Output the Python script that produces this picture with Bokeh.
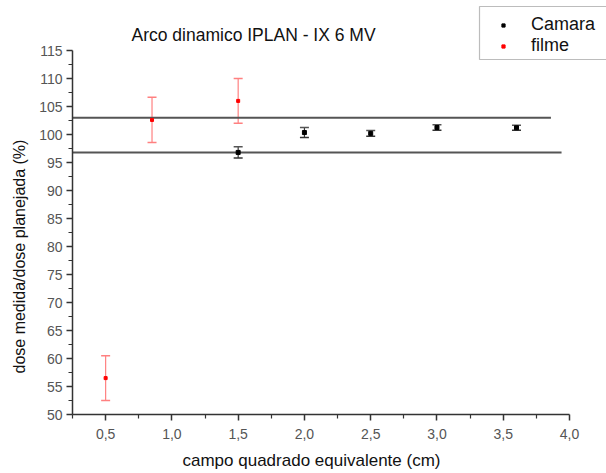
from bokeh.plotting import figure
from bokeh.models import (ColumnDataSource, Range1d, FixedTicker, Whisker, TeeHead,
                          Legend, LegendItem, Label, Title, PolyAnnotation)
from bokeh.embed import file_html
from bokeh.resources import INLINE

# ---- data ----
camara_x = [1.5, 2.0, 2.5, 3.0, 3.6]
camara_y = [96.8, 100.35, 100.2, 101.25, 101.2]
camara_err = [1.0, 0.9, 0.5, 0.5, 0.45]

filme_x = [0.5, 0.85, 1.5]
filme_y = [56.5, 102.6, 106.0]
filme_err = [4.0, 4.05, 4.0]

ref_y = [103.0, 96.8]
ref_x_start = [0.25, 0.25]
ref_x_end = [3.86, 3.94]

x_ticks = [0.5, 1.0, 1.5, 2.0, 2.5, 3.0, 3.5, 4.0]
x_tick_labels = ["0,5", "1,0", "1,5", "2,0", "2,5", "3,0", "3,5", "4,0"]
x_minor = [0.25, 0.75, 1.25, 1.75, 2.25, 2.75, 3.25, 3.75]
y_ticks = [50, 55, 60, 65, 70, 75, 80, 85, 90, 95, 100, 105, 110, 115]
y_minor = [52.5, 57.5, 62.5, 67.5, 72.5, 77.5, 82.5, 87.5, 92.5, 97.5, 102.5, 107.5, 112.5]

x_axis_bounds = (0.25, 4.0)
y_axis_bounds = (50, 115)

FONT = "Liberation Sans"

# frame spans the canvas to the top and right so the legend box fits in it;
# the axes are bounded to the data extent
FRAME_W, FRAME_H = 534, 414
x_px_per_unit = 497 / (x_axis_bounds[1] - x_axis_bounds[0])
y_px_per_unit = 364 / (y_axis_bounds[1] - y_axis_bounds[0])
x_end = x_axis_bounds[0] + FRAME_W / x_px_per_unit
y_end = y_axis_bounds[0] + FRAME_H / y_px_per_unit

p = figure(width=606, height=473, output_backend="svg", toolbar_location=None,
           x_range=Range1d(x_axis_bounds[0], x_end), y_range=Range1d(y_axis_bounds[0], y_end),
           min_border_left=72, min_border_right=0, min_border_top=0, min_border_bottom=59,
           frame_width=FRAME_W, frame_height=FRAME_H)
p.outline_line_color = None
p.grid.visible = False
p.background_fill_color = "white"
p.title.visible = False

for ax in (p.xaxis[0], p.yaxis[0]):
    ax.axis_line_color = "#333333"
    ax.axis_line_width = 1.5
    ax.major_tick_line_color = "#333333"
    ax.minor_tick_line_color = "#333333"
    ax.major_tick_line_width = 1.5
    ax.minor_tick_line_width = 1.2
    ax.major_tick_out = 6
    ax.major_tick_in = 0
    ax.minor_tick_out = 4
    ax.minor_tick_in = 0
    ax.major_label_text_font = FONT
    ax.major_label_text_font_size = "14px"
    ax.major_label_text_color = "#555555"

p.xaxis.bounds = x_axis_bounds
p.yaxis.bounds = y_axis_bounds
p.xaxis.ticker = FixedTicker(ticks=x_ticks, minor_ticks=x_minor)
p.xaxis.major_label_overrides = dict(zip(x_ticks, x_tick_labels))
p.xaxis.major_label_standoff = 8
p.yaxis.ticker = FixedTicker(ticks=y_ticks, minor_ticks=y_minor)
p.yaxis.major_label_standoff = 4

# axis titles as side titles (placed precisely with offsets)
xlab = Title(text="campo quadrado equivalente (cm)", align="left", offset=110,
             text_font=FONT, text_font_size="17px", text_font_style="normal",
             text_color="#111111", standoff=14)
p.add_layout(xlab, "below")
ylab = Title(text="dose medida/dose planejada (%)", align="left", offset=41,
             text_font=FONT, text_font_size="16px", text_font_style="normal",
             text_color="#111111", standoff=17)
p.add_layout(ylab, "left")

# chart title
p.add_layout(Label(x=59, y=380, x_units="screen", y_units="screen",
                   text="Arco dinamico IPLAN - IX 6 MV", text_font=FONT,
                   text_font_size="17.5px", text_color="#111111",
                   text_align="left", text_baseline="alphabetic"))

# reference lines
ref_src = ColumnDataSource(dict(x0=ref_x_start, x1=ref_x_end, y=ref_y))
p.segment(x0="x0", y0="y", x1="x1", y1="y", source=ref_src,
          line_color="#555555", line_width=2)

# error bars
cam_src = ColumnDataSource(dict(x=camara_x, y=camara_y,
                                lo=[y - e for y, e in zip(camara_y, camara_err)],
                                hi=[y + e for y, e in zip(camara_y, camara_err)]))
fil_src = ColumnDataSource(dict(x=filme_x, y=filme_y,
                                lo=[y - e for y, e in zip(filme_y, filme_err)],
                                hi=[y + e for y, e in zip(filme_y, filme_err)]))

cam_w = Whisker(base="x", lower="lo", upper="hi", source=cam_src,
                line_color="#333333", line_width=1.2,
                upper_head=TeeHead(size=9, line_color="#555555", line_width=1.5),
                lower_head=TeeHead(size=9, line_color="#333333", line_width=1.5))
fil_w = Whisker(base="x", lower="lo", upper="hi", source=fil_src,
                line_color="#ff8080", line_width=1.2,
                upper_head=TeeHead(size=9, line_color="#ff8080", line_width=1.5),
                lower_head=TeeHead(size=9, line_color="#ff8080", line_width=1.5))
p.add_layout(cam_w)
p.add_layout(fil_w)

r_cam = p.scatter("x", "y", source=cam_src, marker="square", size=4,
                  fill_color="black", line_color="black")
r_fil = p.scatter("x", "y", source=fil_src, marker="square", size=3,
                  fill_color="red", line_color="red")

# legend box: open on the right (it runs past the canvas edge in the reference)
legend_box = PolyAnnotation(xs=[600, 407, 407, 600], ys=[408, 408, 355, 355],
                            xs_units="screen", ys_units="screen",
                            fill_color="white", fill_alpha=1,
                            line_color="#222222", line_width=1.2)
p.add_layout(legend_box)

legend = Legend(items=[LegendItem(label="Camara", renderers=[r_cam]),
                       LegendItem(label="filme", renderers=[r_fil])],
                location=(413, 358))
legend.border_line_color = None
legend.background_fill_alpha = 0
legend.label_text_font = FONT
legend.label_text_font_size = "18px"
legend.label_text_color = "#111111"
legend.glyph_width = 36
legend.glyph_height = 8
legend.label_height = 21
legend.label_standoff = 10
legend.padding = 6
legend.spacing = 0
legend.margin = 0
p.add_layout(legend)

open("out.html", "w").write(file_html(p, INLINE))
